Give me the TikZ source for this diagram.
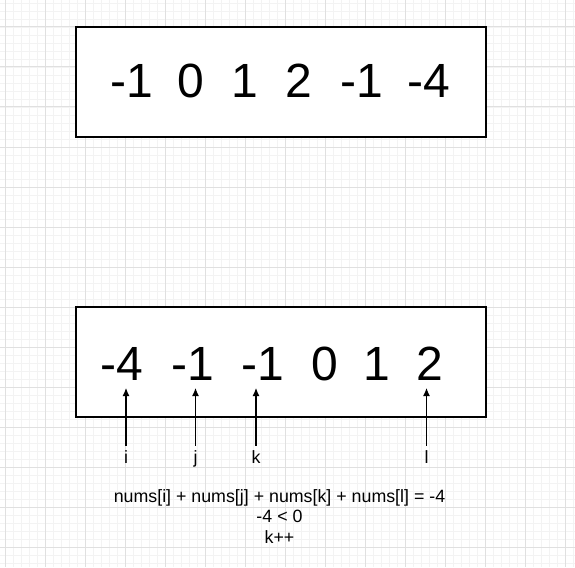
\documentclass[tikz,border=0pt]{standalone}
\usepackage{fontspec}
\setmainfont{Liberation Sans}
\usetikzlibrary{arrows.meta}

\definecolor{gridmajor}{RGB}{224,224,224}
\definecolor{gridminor}{RGB}{243,243,243}

\begin{document}
\begin{tikzpicture}[x=1pt, y=-1pt,
  arraybox/.style={line width=1.3pt, fill=white},
  num/.style={anchor=base, inner sep=0pt, font=\fontsize{48}{58}\selectfont},
  lbl/.style={anchor=base, inner sep=4pt, text height=13pt, text depth=4pt, font=\fontsize{17.8}{20.5}\selectfont},
  pointer/.style={-{Latex[length=8pt,width=7pt]}, line width=1.1pt}]

\useasboundingbox (0,0) rectangle (575,567);
\fill[white] (0,0) rectangle (575,567);

% grid
\foreach \gx in {5,13,...,573} \draw[gridminor, line width=0.8pt] (\gx,0) -- (\gx,567);
\foreach \gy in {3,11,...,563} \draw[gridminor, line width=0.8pt] (0,\gy) -- (575,\gy);
\foreach \gx in {5,45,...,565} \draw[gridmajor, line width=1pt] (\gx,0) -- (\gx,567);
\foreach \gy in {27,67,...,547} \draw[gridmajor, line width=1pt] (0,\gy) -- (575,\gy);

% input
\draw[arraybox] (76,27) rectangle (486,137);
\node[num] (a1) at (132,98) {-1};
\node[num] (a2) at (191,98) {0};
\node[num] (a3) at (245,98) {1};
\node[num] (a4) at (298.5,98) {2};
\node[num] (a5) at (362,98) {-1};
\node[num] (a6) at (428.5,98) {-4};

% sorted
\draw[arraybox] (76,307) rectangle (486,417);
\node[num] (s1) at (122,380) {-4};
\node[num] (s2) at (193,380) {-1};
\node[num] (s3) at (263,380) {-1};
\node[num] (s4) at (325,380) {0};
\node[num] (s5) at (377,380) {1};
\node[num] (s6) at (430,380) {2};

% pointers
\node[lbl] (pi) at (126,463) {i};
\node[lbl] (pj) at (195.5,463) {j};
\node[lbl] (pk) at (256,463) {k};
\node[lbl] (pl) at (426.5,463) {l};
\draw[pointer] (pi) -- ([yshift=-8pt]pi |- s1.base);
\draw[pointer] (pj) -- ([yshift=-8pt]pj |- s2.base);
\draw[pointer] (pk) -- ([yshift=-8pt]pk |- s3.base);
\draw[pointer] (pl) -- ([yshift=-8pt]pl |- s6.base);

\node[anchor=base, inner sep=0pt, align=center, font=\fontsize{17.8}{20.5}\selectfont] (sum) at (279.5,543.3)
  {nums[i] + nums[j] + nums[k] + nums[l] = -4\\-4 < 0\\k++};

\end{tikzpicture}
\end{document}
